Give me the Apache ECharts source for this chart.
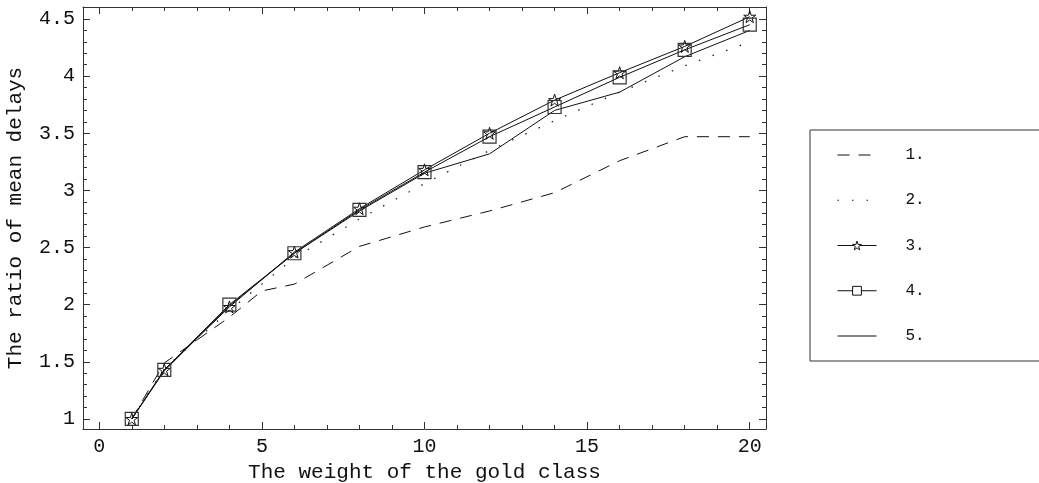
<!DOCTYPE html>
<html>
<head>
<meta charset="utf-8">
<script src="https://cdn.jsdelivr.net/npm/echarts@6/dist/echarts.min.js"></script>
<style>
  html, body { margin: 0; padding: 0; background: #fff; }
  #main { width: 1039px; height: 483px; }
</style>
</head>
<body>
<div id="main"></div>
<script>
// data
var seriesNames = ['1.', '2.', '3.', '4.', '5.'];
var xWeights = [1, 2, 4, 6, 8, 10, 12, 14, 16, 18, 20];
var xWeights1 = [1, 2, 4, 5, 6, 8, 10, 12, 14, 16, 18, 20];   // dashed curve has a point at 5
var ratio1 = [1.0, 1.49, 1.89, 2.12, 2.18, 2.51, 2.68, 2.82, 2.98, 3.26, 3.47, 3.47];
var ratio2 = [1.0, 1.44, 1.95, 2.41, 2.75, 3.06, 3.35, 3.61, 3.86, 4.09, 4.30];
var ratio3 = [1.0, 1.43, 1.98, 2.46, 2.84, 3.18, 3.50, 3.79, 4.03, 4.26, 4.52];
var ratio4 = [1.0, 1.43, 2.00, 2.45, 2.83, 3.16, 3.47, 3.73, 3.99, 4.23, 4.45];
var ratio5 = [1.0, 1.42, 1.99, 2.45, 2.82, 3.15, 3.32, 3.70, 3.86, 4.17, 4.40];

function pairs(xs, ys){
    var out = [];
    for(var i = 0; i < xs.length; i++){
        out.push([xs[i], ys[i]]);
    }
    return out;
}

var FONT = '"Liberation Mono", "DejaVu Sans Mono", monospace';
var STAR = 'path://M50,2 L61,36 L97,36 L68,57 L79,92 L50,71 L21,92 L32,57 L3,36 L39,36 Z';
var frameColor = '#333';

// frame axis (same look on all four sides)
function frameAxis(extra){
    var ax = {
        type: 'value',
        axisLine: { show: true, onZero: false, lineStyle: { color: frameColor, width: 1 } },
        axisTick: { show: true, inside: true, length: 7, lineStyle: { color: frameColor } },
        minorTick: { show: true, splitNumber: 5, length: 4, lineStyle: { color: frameColor } },
        splitLine: { show: false },
        minorSplitLine: { show: false },
        axisLabel: { show: false }
    };
    for(var k in extra) ax[k] = extra[k];
    return ax;
}

var labelStyle = { show: true, color: '#111', fontFamily: FONT, fontSize: 20, margin: 8,
                   showMinLabel: false, showMaxLabel: false };
var nameStyle = { fontFamily: FONT, fontSize: 21, color: '#111' };

// legend icons: no dot on plain lines, hollow markers on marked lines
var noDot = { color: 'transparent', borderColor: 'transparent', borderWidth: 0 };
var hollow = { color: '#fff', borderColor: '#111', borderWidth: 1 };

var chart = echarts.init(document.getElementById('main'));
var option = {
    animation: false,
    backgroundColor: '#fff',
    grid: { left: 83, top: 7, right: 273, bottom: 54, outerBoundsMode: 'none' },
    legend: {
        orient: 'vertical',
        left: 810,
        top: 130,
        padding: [17, 300, 17, 27],
        itemWidth: 39,
        itemHeight: 11,
        itemGap: 29.25,
        borderColor: frameColor,
        borderWidth: 1,
        lineStyle: { width: 1 },
        textStyle: { fontFamily: FONT, fontSize: 16, color: '#111', padding: [0, 0, 0, 24] },
        data: [
            { name: seriesNames[0], itemStyle: noDot },
            { name: seriesNames[1], itemStyle: noDot },
            { name: seriesNames[2], itemStyle: hollow },
            { name: seriesNames[3], itemStyle: hollow },
            { name: seriesNames[4], itemStyle: noDot }
        ]
    },
    xAxis: [
        frameAxis({ min: -0.5, max: 20.5, splitNumber: 5, position: 'bottom',
            axisLabel: labelStyle,
            name: 'The weight of the gold class', nameLocation: 'middle', nameGap: 30,
            nameTextStyle: nameStyle }),
        frameAxis({ min: -0.5, max: 20.5, splitNumber: 5, position: 'top' })
    ],
    yAxis: [
        frameAxis({ min: 0.912, max: 4.605, splitNumber: 8, position: 'left',
            axisLabel: labelStyle,
            name: 'The ratio of mean delays', nameLocation: 'middle', nameGap: 57,
            nameTextStyle: nameStyle }),
        frameAxis({ min: 0.912, max: 4.605, splitNumber: 8, position: 'right' })
    ],
    series: [
        {
            name: seriesNames[0], type: 'line', symbol: 'none',
            data: pairs(xWeights1, ratio1),
            lineStyle: { color: '#111', width: 1, type: [12, 9] },
            itemStyle: { color: '#111' }
        },
        {
            name: seriesNames[1], type: 'line', symbol: 'none',
            data: pairs(xWeights, ratio2),
            lineStyle: { color: '#222', width: 1.3, type: [1.5, 13] },
            itemStyle: { color: '#222' }
        },
        {
            name: seriesNames[2], type: 'line', symbol: STAR, symbolSize: 12,
            data: pairs(xWeights, ratio3),
            lineStyle: { color: '#111', width: 1 },
            itemStyle: { color: 'transparent', borderColor: '#111', borderWidth: 1 }
        },
        {
            name: seriesNames[3], type: 'line', symbol: 'rect', symbolSize: 13,
            data: pairs(xWeights, ratio4),
            lineStyle: { color: '#111', width: 1 },
            itemStyle: { color: 'transparent', borderColor: '#333', borderWidth: 1.2 }
        },
        {
            name: seriesNames[4], type: 'line', symbol: 'none',
            data: pairs(xWeights, ratio5),
            lineStyle: { color: '#111', width: 1 },
            itemStyle: { color: '#111' }
        }
    ]
};
chart.setOption(option);
</script>
</body>
</html>
